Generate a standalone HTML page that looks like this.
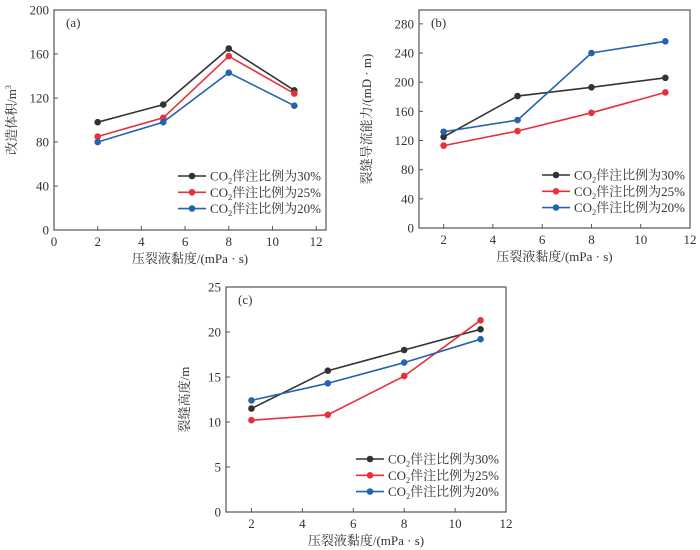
<!DOCTYPE html>
<html><head><meta charset="utf-8">
<style>
body{margin:0;background:#fff;}
svg{display:block;font-family:"Liberation Serif","Noto Serif CJK SC",serif;}
</style></head>
<body>
<svg id="fig" width="700" height="550" viewBox="0 0 700 550" xmlns="http://www.w3.org/2000/svg"></svg>
<script>
// x categories shared by all panels
const viscosity = [2, 5, 8, 11];
const seriesNames = ["30%", "25%", "20%"];
// panel (a) 改造体积
const volume30 = [98, 114, 165, 127];
const volume25 = [85, 102, 158, 124];
const volume20 = [80, 98, 143, 113];
// panel (b) 裂缝导流能力
const conductivity30 = [125, 181, 193, 206];
const conductivity25 = [113, 133, 158, 186];
const conductivity20 = [132, 148, 240, 256];
// panel (c) 裂缝高度
const height30 = [11.5, 15.7, 18.0, 20.3];
const height25 = [10.2, 10.8, 15.1, 21.3];
const height20 = [12.4, 14.3, 16.6, 19.2];
// ticks
const ticksXA = [0, 2, 4, 6, 8, 10, 12];
const ticksYA = [0, 40, 80, 120, 160, 200];
const ticksXB = [2, 4, 6, 8, 10, 12];
const ticksYB = [0, 40, 80, 120, 160, 200, 240, 280];
const ticksXC = [2, 4, 6, 8, 10, 12];
const ticksYC = [0, 5, 10, 15, 20, 25];

const NS = "http://www.w3.org/2000/svg";
const svg = document.getElementById("fig");
const colors = ["#333333", "#e8303a", "#2563b0"];
function mk(tag, attrs, parent) {
  const e = document.createElementNS(NS, tag);
  for (const k in attrs) e.setAttribute(k, attrs[k]);
  (parent || svg).appendChild(e);
  return e;
}

function panel(cfg) {
  const g = mk("g", {});
  
  
  const sx = v => cfg.L + (v - cfg.x0) / (cfg.x1 - cfg.x0) * (cfg.R - cfg.L);
  const sy = v => cfg.B - (v - cfg.y0) / (cfg.y1 - cfg.y0) * (cfg.B - cfg.T);
  const box = mk("rect", {x: cfg.L, y: cfg.T, width: cfg.R - cfg.L, height: cfg.B - cfg.T, fill: "none", stroke: "#555", "stroke-width": 1.2}, g);
  
  
  cfg.xt.forEach(t => {
    mk("line", {x1: sx(t), x2: sx(t), y1: cfg.B, y2: cfg.B - 4, stroke: "#555"}, g);
    const tx = mk("text", {x: sx(t), y: cfg.B + 16, "text-anchor": "middle", "font-size": 13, fill: "#333"}, g);
    tx.textContent = t;
    
    
  });
  cfg.yt.forEach(t => {
    mk("line", {x1: cfg.L, x2: cfg.L + 4, y1: sy(t), y2: sy(t), stroke: "#555"}, g);
    const tx = mk("text", {x: cfg.L - 5, y: sy(t) + 4.5, "text-anchor": "end", "font-size": 13, fill: "#333"}, g);
    tx.textContent = t;
    
    
  });
  const lab = mk("text", {x: cfg.L + 12, y: cfg.T + 17, "font-size": 13, fill: "#333"}, g);
  lab.textContent = "(" + cfg.id + ")";
  
  
  const xtl = mk("text", {x: (cfg.L + cfg.R) / 2, y: cfg.B + 33, "text-anchor": "middle", "font-size": 13, fill: "#333"}, g);
  xtl.textContent = "压裂液黏度/(mPa · s)";
  
  
  const ytl = mk("text", {x: 0, y: 0, "text-anchor": "middle", "font-size": 13, fill: "#333", transform: "translate(" + cfg.ytx + "," + (cfg.T + cfg.B) / 2 + ") rotate(-90)"}, g);
  ytl.innerHTML = cfg.ytitle;
  
  
  cfg.series.forEach((vals, i) => {
    const pts = viscosity.map((x, j) => sx(x) + "," + sy(vals[j])).join(" ");
    const pl = mk("polyline", {points: pts, fill: "none", stroke: colors[i], "stroke-width": 1.6}, g);
    
    
    viscosity.forEach((x, j) => {
      const c = mk("circle", {cx: sx(x), cy: sy(vals[j]), r: 3.3, fill: colors[i]}, g);
      
      
    });
    const ly = cfg.legY + i * 16.3;
    const lg = mk("g", {}, g);
    
    
    mk("line", {x1: cfg.legX, x2: cfg.legX + 28, y1: ly, y2: ly, stroke: colors[i], "stroke-width": 1.6}, lg);
    mk("circle", {cx: cfg.legX + 14, cy: ly, r: 3.3, fill: colors[i]}, lg);
    const lt = mk("text", {x: cfg.legX + 32, y: ly + 4.5, "font-size": 13, fill: "#333"}, lg);
    lt.innerHTML = 'CO<tspan font-size="8" dy="3">2</tspan><tspan dy="-3">伴注比例为' + seriesNames[i] + '</tspan>';
  });
}

panel({id: "a", L: 54, R: 326, T: 10, B: 230, x0: 0, x1: 12.45, y0: 0, y1: 200,
  xt: ticksXA, yt: ticksYA, series: [volume30, volume25, volume20],
  legX: 178, legY: 176, ytx: 16, ytitle: '改造体积/m<tspan font-size="8" dy="-5">3</tspan>'});
panel({id: "b", L: 419, R: 690, T: 10, B: 228, x0: 1, x1: 12, y0: 0, y1: 299,
  xt: ticksXB, yt: ticksYB, series: [conductivity30, conductivity25, conductivity20],
  legX: 542, legY: 175, ytx: 371, ytitle: '裂缝导流能力/(mD · m)'});
panel({id: "c", L: 226, R: 506, T: 287, B: 512, x0: 1, x1: 12, y0: 0, y1: 25,
  xt: ticksXC, yt: ticksYC, series: [height30, height25, height20],
  legX: 356, legY: 459, ytx: 189, ytitle: '裂缝高度/m'});
</script>
</body></html>
